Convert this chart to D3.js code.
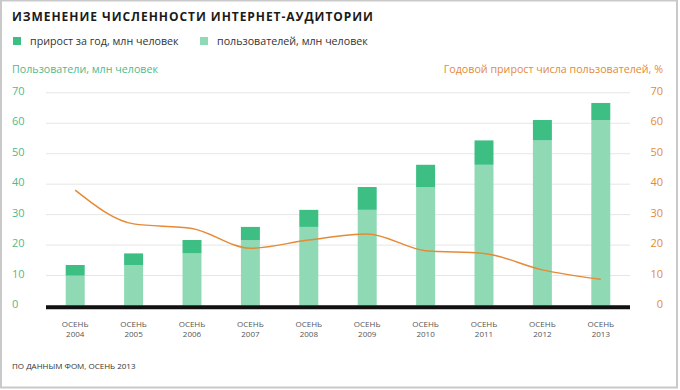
<!DOCTYPE html>
<html lang="ru">
<head>
<meta charset="UTF-8">
<title>Изменение численности интернет-аудитории</title>
<script src="https://d3js.org/d3.v7.min.js"></script>
<style>
    body { margin: 0; background: #fff; }
    svg { display: block; font-family: "Open Sans", "Noto Sans", sans-serif; }
</style>
</head>
<body>
<div id="chart"></div>
<script>
// data
var years = ['2004', '2005', '2006', '2007', '2008', '2009', '2010', '2011', '2012', '2013'];
var users = [9.8, 13.3, 17.1, 21.5, 25.8, 31.4, 38.9, 46.2, 54.2, 60.9];   // light part
var growth = [3.5, 3.8, 4.4, 4.3, 5.6, 7.5, 7.3, 8.0, 6.7, 5.6];           // dark part
var growthPct = [37.9, 26.8, 25.3, 18.8, 21.5, 23.5, 18.0, 17.1, 11.7, 8.6];
var yTicks = [0, 10, 20, 30, 40, 50, 60, 70];

var w = 680, h = 390;
var green = '#4fba8b', orange = '#e58a36';
var darkBar = '#3dbf84', lightBar = '#8fdab5';

var svg = d3.select('#chart').append('svg')
    .attr('width', w)
    .attr('height', h);

// frame
svg.append('rect')
    .attr('x', 1).attr('y', 0.5)
    .attr('width', 676).attr('height', 387)
    .attr('fill', '#fff')
    .attr('stroke', '#c9c9c9')
    .attr('stroke-width', 2);

var x = d3.scaleBand()
    .domain(years)
    .range([46, 630])
    .paddingInner(0.675)
    .paddingOuter(0.3375);

var y = d3.scaleLinear().domain([0, 70]).range([305.5, 92.3]);
var yR = d3.scaleLinear().domain([0, 70]).range([305.5, 92.3]);

// title
svg.append('text')
    .attr('x', 12).attr('y', 20.5)
    .attr('font-size', '12px')
    .attr('font-weight', 'bold')
    .attr('fill', '#1a1a1a')
    .attr('textLength', 361)
    .attr('lengthAdjust', 'spacing')
    .text('ИЗМЕНЕНИЕ ЧИСЛЕННОСТИ ИНТЕРНЕТ-АУДИТОРИИ');

// legend
var legendItems = [
    {label: 'прирост за год, млн человек', color: darkBar, x: 13},
    {label: 'пользователей, млн человек', color: lightBar, x: 200}
];
var leg = svg.append('g').attr('class', 'legend');
leg.selectAll('rect')
    .data(legendItems)
    .enter().append('rect')
    .attr('x', function(d) { return d.x; })
    .attr('y', 37)
    .attr('width', 8).attr('height', 8)
    .attr('fill', function(d) { return d.color; });
leg.selectAll('text')
    .data(legendItems)
    .enter().append('text')
    .attr('x', function(d) { return d.x + 17; })
    .attr('y', 45)
    .attr('font-size', '10.7px')
    .attr('fill', '#333')
    .text(function(d) { return d.label; });

// axis titles
svg.append('text')
    .attr('x', 12).attr('y', 73)
    .attr('font-size', '10.7px')
    .attr('fill', green)
    .text('Пользователи, млн человек');
svg.append('text')
    .attr('x', 663).attr('y', 73)
    .attr('text-anchor', 'end')
    .attr('font-size', '10.7px')
    .attr('fill', orange)
    .text('Годовой прирост числа пользователей, %');

// gridlines
var grid = svg.append('g')
    .attr('transform', 'translate(46,0)')
    .call(d3.axisRight(y).tickValues(yTicks).tickSize(584).tickFormat(''));
grid.select('.domain').remove();
grid.selectAll('line').attr('stroke', '#e6e6e6');

// left axis labels
var yAxisL = svg.append('g')
    .attr('transform', 'translate(12,0)')
    .call(d3.axisRight(y).tickValues(yTicks).tickSize(0).tickPadding(0));
yAxisL.select('.domain').remove();
yAxisL.selectAll('text')
    .attr('font-size', '11px')
    .attr('fill', green)
    .attr('dy', '0.18em');

// right axis labels
var yAxisR = svg.append('g')
    .attr('transform', 'translate(663,0)')
    .call(d3.axisLeft(yR).tickValues(yTicks).tickSize(0).tickPadding(0));
yAxisR.select('.domain').remove();
yAxisR.selectAll('text')
    .attr('font-size', '11px')
    .attr('fill', orange)
    .attr('dy', '0.18em');
svg.selectAll('.tick').attr('font-family', null);
yAxisL.attr('font-family', null);
yAxisR.attr('font-family', null);

// stacked bars
var rows = years.map(function(yr, i) {
    return {year: yr, users: users[i], growth: growth[i]};
});
var series = d3.stack().keys(['users', 'growth'])(rows);
var barColor = {users: lightBar, growth: darkBar};

svg.append('g').selectAll('g')
    .data(series)
    .enter().append('g')
    .attr('fill', function(d) { return barColor[d.key]; })
    .selectAll('rect')
    .data(function(d) { return d; })
    .enter().append('rect')
    .attr('x', function(d) { return x(d.data.year); })
    .attr('y', function(d) { return y(d[1]); })
    .attr('width', x.bandwidth())
    .attr('height', function(d) { return y(d[0]) - y(d[1]); });

// baseline
svg.append('line')
    .attr('x1', 46).attr('x2', 630)
    .attr('y1', y(0) + 1.8).attr('y2', y(0) + 1.8)
    .attr('stroke', '#111')
    .attr('stroke-width', 4);

// x labels
var xAxis = svg.append('g')
    .attr('transform', 'translate(0,' + (y(0) + 4) + ')')
    .call(d3.axisBottom(x).tickSize(0).tickPadding(0));
xAxis.select('.domain').remove();
xAxis.attr('font-family', null);
xAxis.selectAll('text').remove();
xAxis.selectAll('.tick').append('text')
    .attr('text-anchor', 'middle')
    .attr('font-size', '8px')
    .attr('fill', '#555')
    .selectAll('tspan')
    .data(function(d) { return ['ОСЕНЬ', d]; })
    .enter().append('tspan')
    .attr('x', 0)
    .attr('y', function(d, i) { return 17 + i * 10.5; })
    .text(function(d) { return d; });

// growth % line
var line = d3.line()
    .x(function(d, i) { return x(years[i]) + x.bandwidth() / 2; })
    .y(function(d) { return yR(d); })
    .curve(d3.curveMonotoneX);

svg.append('path')
    .datum(growthPct)
    .attr('d', line)
    .attr('fill', 'none')
    .attr('stroke', orange)
    .attr('stroke-width', 1.5);

// source
svg.append('text')
    .attr('x', 12).attr('y', 369)
    .attr('font-size', '8px')
    .attr('fill', '#333')
    .text('ПО ДАННЫМ ФОМ, ОСЕНЬ 2013');
</script>
</body>
</html>
